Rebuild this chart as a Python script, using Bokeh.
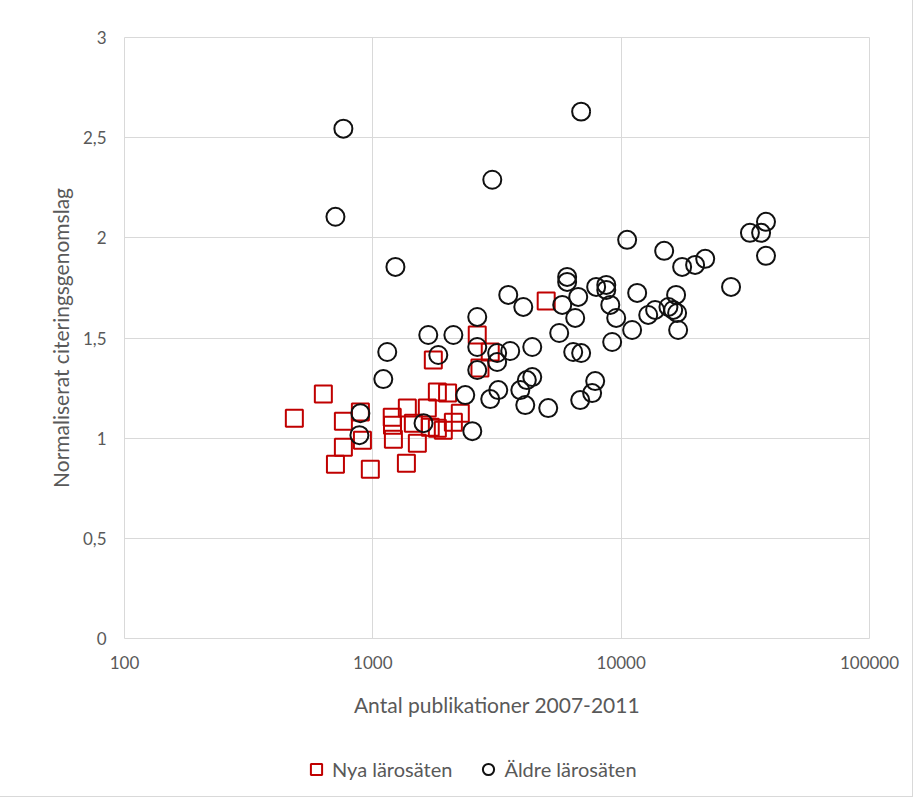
from bokeh.plotting import figure
from bokeh.layouts import column
from bokeh.models import FixedTicker, Legend, LegendItem, Range1d
from bokeh.embed import file_html
from bokeh.resources import INLINE

# Nya lärosäten (red squares)
nya_x = [483, 632, 761, 891, 761, 707, 908, 977, 1197, 1200, 1210, 1377, 1365, 1511,
         1657, 1819, 2000, 1456, 1703, 1819, 1922, 2110, 2250, 1752, 2633, 2700, 2970, 4990]
nya_y = [1.10, 1.22, 1.085, 1.13, 0.955, 0.87, 0.99, 0.845, 1.105, 1.065, 0.995, 1.15, 0.875, 0.975,
         1.15, 1.23, 1.225, 1.075, 1.055, 1.05, 1.04, 1.08, 1.125, 1.39, 1.515, 1.35, 1.43, 1.685]

# Äldre lärosäten (black circles)
aldre_x = [761, 707, 6900, 3027, 1233, 1143, 1102, 891, 883, 1600, 1672, 2110, 1835, 2633,
           2633, 2633, 2356, 2515, 3167, 3167, 3575, 4385, 2970, 3200, 3925, 4170, 4385, 4110,
           5085, 3510, 4035, 5630, 5790, 6060, 6060, 6715, 6530, 6410, 6900, 7930, 8710, 8710,
           9040, 9550, 11070, 9200, 11600, 12850, 13700, 15500, 16640, 16200, 16800, 16960,
           10570, 14900, 17600, 19850, 21800, 27700, 33000, 36600, 38300, 38300, 7860, 7640, 6840]
aldre_y = [2.545, 2.105, 2.63, 2.29, 1.855, 1.43, 1.295, 1.125, 1.015, 1.075, 1.515, 1.515, 1.415, 1.605,
           1.455, 1.34, 1.215, 1.035, 1.425, 1.38, 1.435, 1.455, 1.195, 1.24, 1.24, 1.29, 1.305, 1.165,
           1.15, 1.715, 1.655, 1.525, 1.665, 1.805, 1.78, 1.705, 1.60, 1.43, 1.425, 1.755, 1.765, 1.74,
           1.665, 1.60, 1.54, 1.48, 1.725, 1.615, 1.64, 1.655, 1.715, 1.64, 1.625, 1.54,
           1.99, 1.935, 1.855, 1.865, 1.895, 1.755, 2.025, 2.025, 2.08, 1.91, 1.285, 1.225, 1.19]

series_names = ["Nya lärosäten", "Äldre lärosäten"]
x_ticks = [100, 1000, 10000, 100000]
x_labels = ["100", "1000", "10000", "100000"]
y_ticks = [0, 0.5, 1, 1.5, 2, 2.5, 3]
y_labels = ["0", "0,5", "1", "1,5", "2", "2,5", "3"]

FONT = "Lato"
GRAY = "#595959"
GRID = "#d9d9d9"
RED = "#C00000"
BLACK = "#111111"

p = figure(frame_width=745, frame_height=601, x_axis_type="log",
           x_range=Range1d(100, 100000), y_range=Range1d(0, 3),
           output_backend="svg", toolbar_location=None,
           min_border_left=124, min_border_right=43, min_border_top=37, min_border_bottom=102)
p.outline_line_color = GRID
p.background_fill_color = "white"
p.border_fill_color = "white"

p.xaxis.ticker = FixedTicker(ticks=x_ticks)
p.xaxis.major_label_overrides = dict(zip(x_ticks, x_labels))
p.yaxis.ticker = FixedTicker(ticks=y_ticks)
p.yaxis.major_label_overrides = dict(zip(y_ticks, y_labels))
p.xgrid.ticker = FixedTicker(ticks=x_ticks)
p.ygrid.ticker = FixedTicker(ticks=y_ticks)

for ax in (p.xaxis, p.yaxis):
    ax.axis_line_color = None
    ax.major_tick_line_color = None
    ax.minor_tick_line_color = None
    ax.major_label_text_font = FONT
    ax.major_label_text_font_size = "17px"
    ax.major_label_text_color = GRAY
    ax.axis_label_text_font = FONT
    ax.axis_label_text_font_size = "21px"
    ax.axis_label_text_color = GRAY
    ax.axis_label_text_font_style = "normal"

p.xaxis.axis_label = "Antal publikationer 2007-2011"
p.yaxis.axis_label = "Normaliserat citeringsgenomslag"
p.xaxis.major_label_standoff = 11
p.yaxis.major_label_standoff = 12
p.xaxis.axis_label_standoff = 20
p.yaxis.axis_label_standoff = 7

p.xgrid.grid_line_color = GRID
p.ygrid.grid_line_color = GRID

p.scatter(nya_x, nya_y, marker="square", size=17, fill_color=None,
          line_color=RED, line_width=2)
p.scatter(aldre_x, aldre_y, marker="circle", size=18, fill_color=None,
          line_color=BLACK, line_width=2)

# Legend strip below the chart (same series; its ranges keep the marks out of view)
lg = figure(width=p.min_border_left + 745 + p.min_border_right, height=56,
            x_range=Range1d(0, 1), y_range=Range1d(0, 1),
            output_backend="svg", toolbar_location=None, min_border=0)
lg.axis.visible = False
lg.grid.visible = False
lg.outline_line_color = None
lg.border_fill_color = "white"
l_nya = lg.scatter(nya_x, nya_y, marker="square", size=17, fill_color=None,
                   line_color=RED, line_width=2)
l_aldre = lg.scatter(aldre_x, aldre_y, marker="circle", size=18, fill_color=None,
                     line_color=BLACK, line_width=2)
legend = Legend(items=[LegendItem(label=series_names[0], renderers=[l_nya]),
                       LegendItem(label=series_names[1], renderers=[l_aldre])],
                orientation="horizontal", location=(178, 13), padding=0, margin=0,
                border_line_color=None, background_fill_alpha=0,
                label_text_font=FONT, label_text_font_size="20px", label_text_color=GRAY,
                glyph_width=28, glyph_height=28, spacing=22, label_standoff=2)
lg.add_layout(legend, "center")

layout = column(p, lg, spacing=0)
layout.styles = {"outline": "1px solid #d9d9d9"}

open("out.html", "w").write(file_html(layout, INLINE))
